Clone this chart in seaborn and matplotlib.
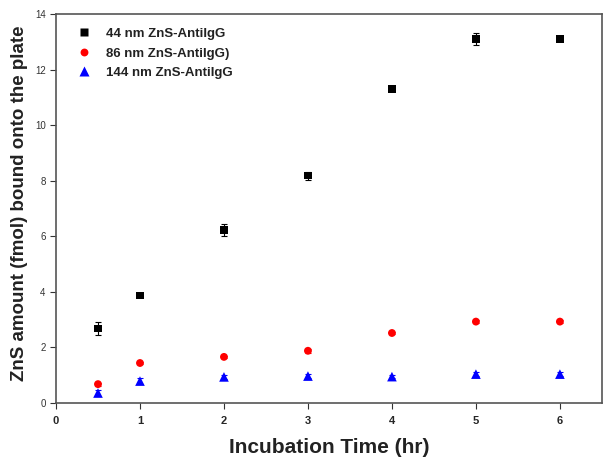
import numpy as np
import pandas as pd
import seaborn as sns
from matplotlib import pyplot as plt

# Values
time_hr = [0.5, 1, 2, 3, 4, 5, 6]
zns_44 = [2.68, 3.87, 6.23, 8.18, 11.30, 13.10, 13.10]
zns_44_err = [0.25, 0.06, 0.22, 0.15, 0.06, 0.22, 0.06]
zns_86 = [0.68, 1.44, 1.66, 1.88, 2.52, 2.93, 2.93]
zns_86_err = [0.05, 0.05, 0.05, 0.08, 0.05, 0.05, 0.05]
zns_144 = [0.36, 0.79, 0.94, 0.97, 0.95, 1.04, 1.04]
zns_144_err = [0.12, 0.1, 0.06, 0.08, 0.06, 0.06, 0.06]
labels = ["44 nm ZnS-AntiIgG", "86 nm ZnS-AntiIgG)", "144 nm ZnS-AntiIgG"]

df = pd.DataFrame({
    "Time": time_hr * 3,
    "Amount": zns_44 + zns_86 + zns_144,
    "Err": zns_44_err + zns_86_err + zns_144_err,
    "Sample": [labels[0]] * 7 + [labels[1]] * 7 + [labels[2]] * 7,
})

colors = {labels[0]: "black", labels[1]: "#ff0000", labels[2]: "#0000ff"}
markers = {labels[0]: "s", labels[1]: "o", labels[2]: "^"}
msizes = {labels[0]: 28, labels[1]: 32, labels[2]: 48}

sns.set_style("white")
plt.rcParams["font.family"] = ["Liberation Sans", "DejaVu Sans"]

fig = plt.figure(figsize=(6.12, 4.67), dpi=100)
ax = fig.add_axes([0.0915, 0.137, 0.892, 0.833])

for lab in labels:
    sub = df[df["Sample"] == lab]
    ax.errorbar(sub["Time"], sub["Amount"], yerr=sub["Err"], fmt="none",
                ecolor=colors[lab], elinewidth=0.8, capsize=2.5, capthick=0.8, zorder=2)

sns.scatterplot(data=df, x="Time", y="Amount", hue="Sample", style="Sample",
                size="Sample", sizes=msizes, palette=colors, markers=markers,
                edgecolor="none", ax=ax, zorder=3)

ax.set_xlim(0, 6.5)
ax.set_ylim(0, 14)
ax.set_xticks([0, 1, 2, 3, 4, 5, 6])
ax.set_yticks([0, 2, 4, 6, 8, 10, 12, 14])
ax.tick_params(axis="both", direction="out", length=4, width=0.8,
               color="#333333", bottom=True, left=True)
ax.tick_params(axis="x", labelsize=8, pad=5)
ax.tick_params(axis="y", labelsize=7, labelcolor="#333333")
for t in ax.get_xticklabels():
    t.set_fontweight("bold")
for sp in ax.spines.values():
    sp.set_color("#555555")
    sp.set_linewidth(1.2)

ax.set_xlabel("Incubation Time (hr)", fontsize=15, fontweight="bold", color="#222222")
ax.set_ylabel("ZnS amount (fmol) bound onto the plate", fontsize=13.5,
              fontweight="bold", color="#222222")
ax.xaxis.set_label_coords(0.5, -0.09)
ax.yaxis.set_label_coords(-0.052, 0.513)

leg = ax.legend(loc="upper left", frameon=False, fontsize=9.5, title=None,
                bbox_to_anchor=(0.005, 0.995), handletextpad=0.7,
                labelspacing=0.55, markerscale=1.0)
for t in leg.get_texts():
    t.set_fontweight("bold")
    t.set_color("#222222")

plt.savefig("out.png", dpi=100)
